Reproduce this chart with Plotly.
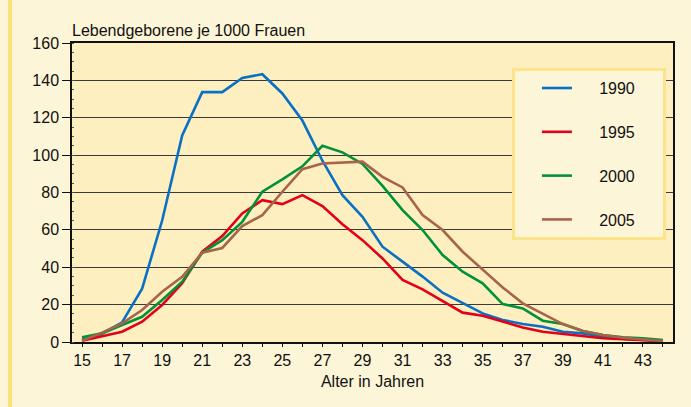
import plotly.graph_objects as go

ages = list(range(15, 45))

y1990 = [1.2, 4.5, 10.5, 28.5, 65, 110.5, 133.7, 133.7, 141.3, 143.3, 133, 118.5, 97, 78.6, 67,
         51, 43, 35, 26.4, 21, 15.3, 11.8, 9.6, 8.2, 5.5, 4.6, 2.9, 1.8, 1, 0.5]
y1995 = [0.7, 2.9, 5.5, 10.9, 19.8, 31.4, 48.3, 56.7, 68.8, 75.9, 73.8, 78.6, 72.7, 63, 54.5,
         44.7, 33.2, 28.2, 22.1, 15.7, 14.1, 10.9, 7.8, 5.5, 4.3, 3.4, 2, 1.5, 0.8, 0.5]
y2000 = [2.5, 4.6, 9.1, 13.5, 22.5, 32.3, 47.8, 54.5, 64.3, 80.4, 87, 94, 105, 101.5, 95.3,
         83.5, 70.6, 59.9, 46.5, 37.6, 31.4, 20.3, 18, 11.4, 9.6, 5.9, 3.7, 2.5, 2, 1]
y2005 = [0.7, 5, 10, 17.1, 26.9, 34.9, 47.8, 50.3, 62, 67.9, 80.4, 92.5, 95.5, 96.2, 96.5,
         88.4, 82.7, 67.9, 59.9, 48.3, 38.5, 29.2, 20.7, 15, 9.6, 5.9, 3.7, 2.3, 1.5, 0.5]

series_names = ["1990", "1995", "2000", "2005"]
series_values = [y1990, y1995, y2000, y2005]
series_colors = ["#0a70c4", "#e2001a", "#00913a", "#a8644a"]

x_tickvals = list(range(15, 44, 2))
y_tickvals = list(range(0, 161, 20))

FONT = "Liberation Sans, Arial, sans-serif"
NB = "\u00a0"

fig = go.Figure()
for name, vals, col in zip(series_names, series_values, series_colors):
    fig.add_trace(go.Scatter(
        x=ages, y=vals, mode="lines", name=NB * 5 + name + NB * 5,
        legendgroup=name,
        line=dict(color=col, width=2.6),
    ))

fig.update_layout(
    width=691, height=407,
    margin=dict(l=72, r=18, t=43, b=65),
    paper_bgcolor="#fdf5d7",
    plot_bgcolor="#fdefbf",
    font=dict(family=FONT, color="#111111", size=16),
    showlegend=True,
    legend=dict(
        x=0.732, y=0.916, xanchor="left", yanchor="top",
        bgcolor="#fdf5d7", bordercolor="#fce48a", borderwidth=3,
        font=dict(size=16, family=FONT, color="#111111"),
        tracegroupgap=20,
        indentation=22,
        traceorder="grouped",
    ),
    xaxis=dict(
        range=[14.5, 44.5], tickvals=x_tickvals, ticktext=[str(v) for v in x_tickvals],
        showgrid=False, zeroline=False,
        showline=True, linecolor="#111111", linewidth=1.5, mirror=True,
        ticks="outside", ticklen=3, tickcolor="#111111",
        minor=dict(dtick=1, tick0=15, ticks="outside", ticklen=3, tickcolor="#111111", showgrid=False),
        tickfont=dict(size=16),
        title=dict(text="Alter in Jahren", font=dict(size=16), standoff=8),
    ),
    yaxis=dict(
        range=[0, 160], tickvals=y_tickvals,
        showgrid=True, gridcolor="#3a3a3a", gridwidth=1,
        zeroline=False,
        showline=True, linecolor="#111111", linewidth=1.5, mirror=True,
        ticks="outside", ticklen=8, tickcolor="#111111",
        minor=dict(dtick=5, ticks="inside", ticklen=2, tickcolor="#555555", showgrid=False),
        tickfont=dict(size=16),
    ),
    annotations=[
        dict(text="Lebendgeborene je 1000 Frauen", xref="paper", yref="paper",
             x=0, y=1.0, xanchor="left", yanchor="bottom", yshift=2, xshift=-2,
             showarrow=False, font=dict(size=16, family=FONT, color="#111111")),
    ],
    shapes=[
        dict(type="rect", xref="paper", yref="paper",
             x0=(8 - 72) / 601, x1=(12 - 72) / 601, y0=-65 / 299, y1=(342) / 299,
             fillcolor="#fbe07c", line=dict(width=0), layer="below"),
    ],
)

fig.write_html("out.html", config={"displayModeBar": False},
               post_script="document.body.style.margin='0';")
